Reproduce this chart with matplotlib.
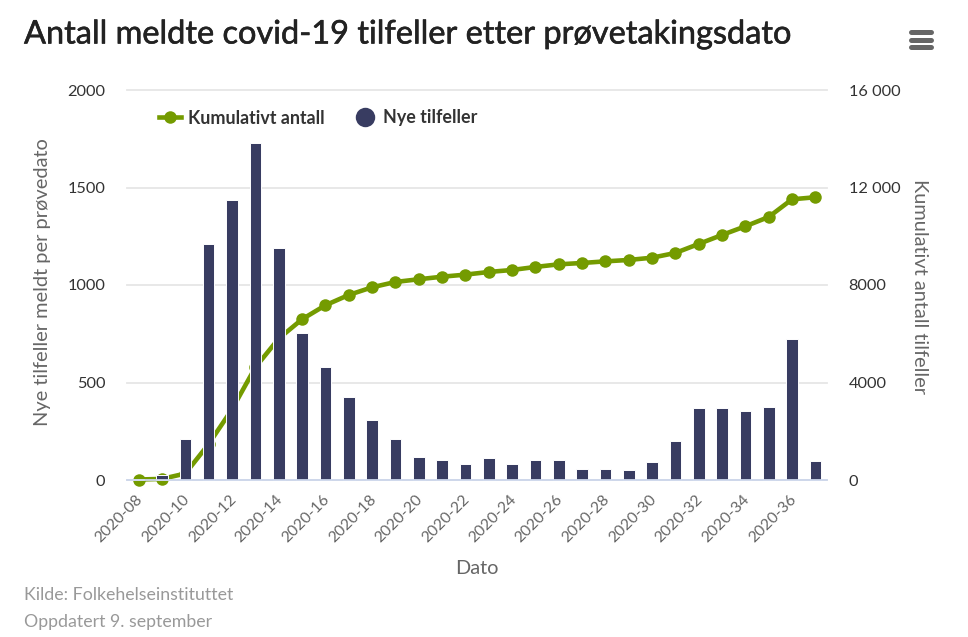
import matplotlib
matplotlib.use("Agg")
import matplotlib.pyplot as plt
import matplotlib.patheffects as pe
from matplotlib.lines import Line2D
from matplotlib.transforms import ScaledTranslation

plt.rcParams['font.family'] = ['Lato', 'DejaVu Sans']

weeks = [f"2020-{w:02d}" for w in range(8, 38)]
new_cases = [3, 25, 212, 1212, 1435, 1727, 1189, 755, 578, 424, 306, 212, 120, 105, 82, 115,
             82, 105, 105, 58, 58, 52, 90, 198, 367, 367, 352, 376, 723, 98]
cumulative = [20, 45, 265, 1475, 2900, 4620, 5800, 6593, 7167, 7590, 7905, 8124, 8235, 8340, 8425, 8534,
              8616, 8740, 8848, 8903, 8970, 9027, 9120, 9314, 9683, 10052, 10408, 10790, 11516, 11600]
left_ticks = [0, 500, 1000, 1500, 2000]
right_ticks = [0, 4000, 8000, 12000, 16000]
right_labels = ["0", "4000", "8000", "12 000", "16 000"]

W, H = 968, 637
GREEN, NAVY = "#749b00", "#383c61"
fig = plt.figure(figsize=(W/100, H/100), dpi=100, facecolor="white")
axL = fig.add_axes([127/W, 1-480/H, 700/W, 390/H])
axR = axL.twinx()
axL.set_zorder(2); axR.set_zorder(1)
axL.patch.set_visible(False)

x = list(range(len(weeks)))
axR.plot(x, cumulative, color=GREEN, lw=3.3, marker="o", ms=9, mew=0, solid_capstyle="round", clip_on=False)
axL.bar(x, new_cases, width=0.5, color=NAVY, edgecolor="white", linewidth=0.7, clip_on=False)

axL.set_xlim(-0.5, len(weeks)-0.5)
axL.set_ylim(0, 2000)
axR.set_ylim(0, 16000)
axL.set_yticks(left_ticks)
axR.set_yticks(right_ticks, right_labels)
axR.grid(axis="y", color="#e6e6e6", lw=1.3, clip_on=False)
axR.set_axisbelow(True)
axL.set_xticks(x[::2], weeks[::2], rotation=45, ha="right", rotation_mode="anchor")

for ax in (axL, axR):
    for s in ax.spines.values():
        s.set_visible(False)
axL.spines["bottom"].set_visible(True)
axL.spines["bottom"].set_color("#ccd6eb")
axL.spines["bottom"].set_linewidth(1.3)
axL.tick_params(axis="x", length=0, pad=9, labelsize=11.3, labelcolor="#666666")
axL.tick_params(axis="y", length=0, pad=15.5, labelsize=11.8, labelcolor="#333333")
axR.tick_params(axis="y", length=0, pad=15.5, labelsize=11.8, labelcolor="#333333")
shift = ScaledTranslation(-3/100, 0, fig.dpi_scale_trans)
for lab in axL.get_xticklabels():
    lab.set_transform(lab.get_transform() + shift)

fig.text(477/W, 1-568/H, "Dato", ha="center", va="center", fontsize=14.4, color="#666666")
fig.text(42.5/W, 1-282/H, "Nye tilfeller meldt per prøvedato", rotation=90, ha="center", va="center",
         fontsize=14.4, color="#666666")
fig.text(919/W, 1-286/H, "Kumulativt antall tilfeller", rotation=270, ha="center", va="center",
         fontsize=14.4, color="#666666")

title = fig.text(24/W, 1-34.5/H, "Antall meldte covid-19 tilfeller etter prøvetakingsdato", ha="left", va="center",
                 fontsize=23.4, color="#222222")
title.set_path_effects([pe.withStroke(linewidth=0.4, foreground="#222222")])
fig.text(24/W, 1-595/H, "Kilde: Folkehelseinstituttet", ha="left", va="center", fontsize=12.8, color="#999999")
fig.text(24/W, 1-622/H, "Oppdatert 9. september", ha="left", va="center", fontsize=12.8, color="#999999")

handles = [Line2D([], [], color=GREEN, lw=3.3, marker="o", ms=9, mew=0),
           Line2D([], [], color=NAVY, lw=0, marker="o", ms=14, mew=0)]
leg = fig.legend(handles, ["Kumulativt antall", "Nye tilfeller"], ncol=2, frameon=False,
                 loc="center left", bbox_to_anchor=(143/W, 1-118/H), handlelength=1.2,
                 columnspacing=1.68, handletextpad=0.4, prop={"size": 12.9, "weight": "bold"},
                 labelcolor="#333333")
leg.set_zorder(5)

for yp in (32, 39.5, 47):
    fig.add_artist(Line2D([911/W, 931/W], [1-yp/H]*2, color="#666666", lw=3.6, solid_capstyle="round"))

fig.savefig("out.png", dpi=100)
